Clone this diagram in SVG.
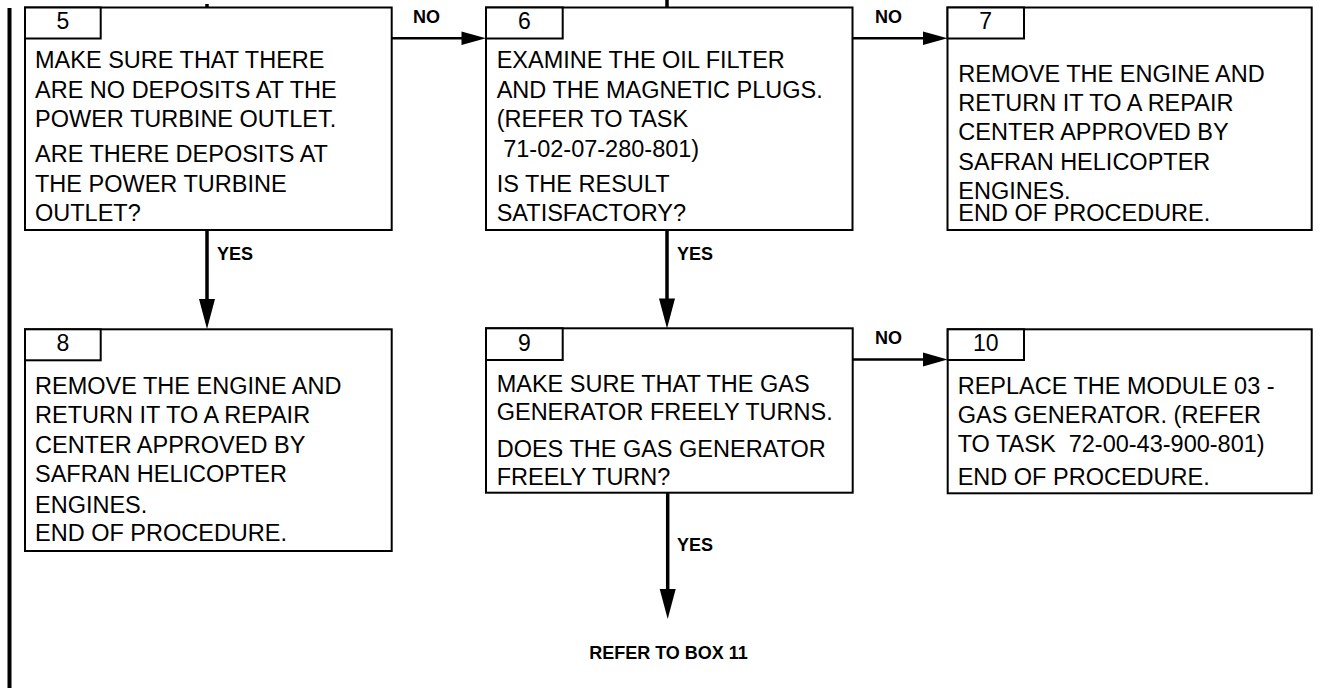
<svg xmlns="http://www.w3.org/2000/svg" width="1320" height="688" viewBox="0 0 1320 688">
<defs>
<style>
.box{fill:#fff;stroke:#000;stroke-width:2}
.tab{fill:#fff;stroke:#000;stroke-width:2}
.t{font-family:"Liberation Sans",Arial,sans-serif;font-size:23.5px;fill:#000}
.num{font-family:"Liberation Sans",Arial,sans-serif;font-size:23px;fill:#000;text-anchor:middle}
.lbl{font-family:"Liberation Sans",Arial,sans-serif;font-size:18px;font-weight:bold;fill:#000}
.h{stroke:#000;stroke-width:2.5;fill:none}
.v{stroke:#000;stroke-width:3.5;fill:none}
.ah{fill:#000}
</style>
</defs>
<rect x="7.5" y="8" width="4" height="680" fill="#000"/>
<g id="connectors">
<line class="v" x1="207" y1="4" x2="207" y2="8"/>
<line class="v" x1="667" y1="0" x2="667" y2="8"/>
<line class="h" x1="392" y1="38.3" x2="464" y2="38.3"/>
<polygon class="ah" points="486,38.3 461.5,31.5 461.5,45"/>
<text class="lbl" x="413" y="23">NO</text>
<line class="h" x1="853" y1="38.3" x2="925" y2="38.3"/>
<polygon class="ah" points="947.5,38.3 923,31.5 923,45"/>
<text class="lbl" x="875" y="23">NO</text>
<line class="v" x1="207" y1="230" x2="207" y2="302"/>
<polygon class="ah" points="207,329 199,299 215,299"/>
<text class="lbl" x="217" y="259.5">YES</text>
<line class="v" x1="667" y1="230" x2="667" y2="302"/>
<polygon class="ah" points="667,328.5 659,298.5 675,298.5"/>
<text class="lbl" x="677" y="259.5">YES</text>
<line class="h" x1="853" y1="359.5" x2="925" y2="359.5"/>
<polygon class="ah" points="947.5,359.5 923,352.5 923,366.5"/>
<text class="lbl" x="875" y="343.5">NO</text>
<line class="v" x1="667.7" y1="493" x2="667.7" y2="592"/>
<polygon class="ah" points="667.7,619 659.7,589 675.7,589"/>
<text class="lbl" x="677" y="550.7">YES</text>
<text class="lbl" x="668.5" y="659.3" text-anchor="middle">REFER TO BOX 11</text>
</g>
<g id="box5">
<rect class="box" x="25" y="7.5" width="366.7" height="222.5"/>
<rect class="tab" x="25" y="7.5" width="75.7" height="31"/>
<text class="num" x="63" y="29.3">5</text>
<text class="t" x="35" y="68.3">MAKE SURE THAT THERE</text>
<text class="t" x="35" y="97.7">ARE NO DEPOSITS AT THE</text>
<text class="t" x="35" y="127.3">POWER TURBINE OUTLET.</text>
<text class="t" x="35" y="162.3">ARE THERE DEPOSITS AT</text>
<text class="t" x="35" y="191.7">THE POWER TURBINE</text>
<text class="t" x="35" y="221">OUTLET?</text>
</g>
<g id="box6">
<rect class="box" x="486" y="7.5" width="366.5" height="222.5"/>
<rect class="tab" x="486" y="7.5" width="76.7" height="31"/>
<text class="num" x="524.3" y="29.3">6</text>
<text class="t" x="496.7" y="68.3">EXAMINE THE OIL FILTER</text>
<text class="t" x="496.7" y="97.7">AND THE MAGNETIC PLUGS.</text>
<text class="t" x="496.7" y="127.3">(REFER TO TASK</text>
<text class="t" x="496.7" y="156.5" xml:space="preserve"> 71-02-07-280-801)</text>
<text class="t" x="496.7" y="191.5">IS THE RESULT</text>
<text class="t" x="496.7" y="221">SATISFACTORY?</text>
</g>
<g id="box7">
<rect class="box" x="947.5" y="7.5" width="364.2" height="222.5"/>
<rect class="tab" x="947.5" y="7.5" width="76.5" height="31"/>
<text class="num" x="985.7" y="29.3">7</text>
<text class="t" x="958.3" y="81.7">REMOVE THE ENGINE AND</text>
<text class="t" x="958.3" y="111">RETURN IT TO A REPAIR</text>
<text class="t" x="958.3" y="140.3">CENTER APPROVED BY</text>
<text class="t" x="958.3" y="169.5">SAFRAN HELICOPTER</text>
<text class="t" x="958.3" y="198.5">ENGINES.</text>
<text class="t" x="958.3" y="221">END OF PROCEDURE.</text>
</g>
<g id="box8">
<rect class="box" x="25" y="329.3" width="366.7" height="221.7"/>
<rect class="tab" x="25" y="329.3" width="75.7" height="31"/>
<text class="num" x="63" y="351">8</text>
<text class="t" x="35" y="394">REMOVE THE ENGINE AND</text>
<text class="t" x="35" y="423.3">RETURN IT TO A REPAIR</text>
<text class="t" x="35" y="452.6">CENTER APPROVED BY</text>
<text class="t" x="35" y="481.8">SAFRAN HELICOPTER</text>
<text class="t" x="35" y="513">ENGINES.</text>
<text class="t" x="35" y="541">END OF PROCEDURE.</text>
</g>
<g id="box9">
<rect class="box" x="486" y="328.3" width="366.7" height="164.4"/>
<rect class="tab" x="486" y="328.3" width="76.7" height="31.7"/>
<text class="num" x="524.3" y="350.5">9</text>
<text class="t" x="496.7" y="391.7">MAKE SURE THAT THE GAS</text>
<text class="t" x="496.7" y="420.3">GENERATOR FREELY TURNS.</text>
<text class="t" x="496.7" y="456.7">DOES THE GAS GENERATOR</text>
<text class="t" x="496.7" y="485">FREELY TURN?</text>
</g>
<g id="box10">
<rect class="box" x="947.7" y="329.3" width="364" height="164"/>
<rect class="tab" x="947.7" y="329.3" width="76.3" height="30.7"/>
<text class="num" x="985.8" y="351">10</text>
<text class="t" x="957.7" y="394">REPLACE THE MODULE 03 -</text>
<text class="t" x="957.7" y="422.7">GAS GENERATOR. (REFER</text>
<text class="t" x="957.7" y="451.7" xml:space="preserve">TO TASK  72-00-43-900-801)</text>
<text class="t" x="957.7" y="485">END OF PROCEDURE.</text>
</g>
</svg>
